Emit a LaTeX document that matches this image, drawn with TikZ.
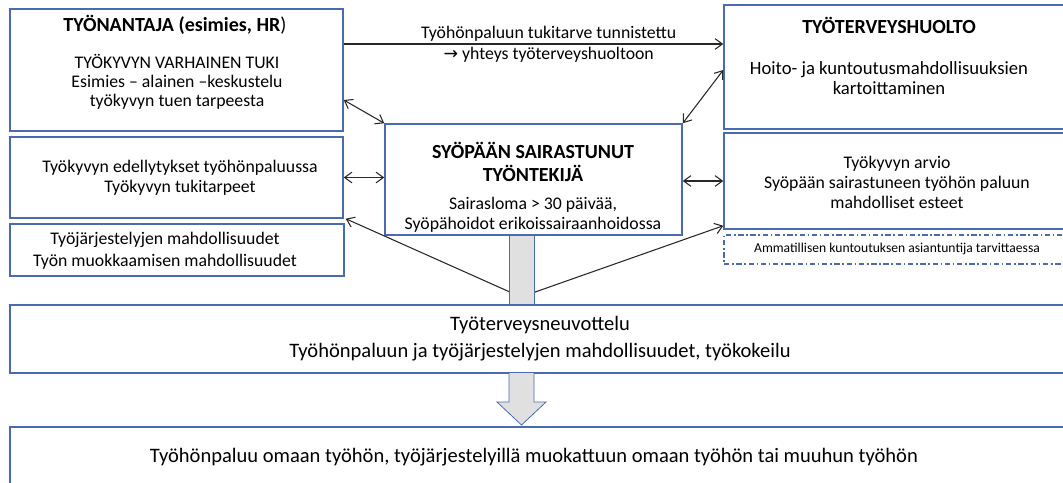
\documentclass[tikz,border=0pt]{standalone}
\usepackage{fontspec}
\setmainfont{Carlito}
\newfontfamily\arrowglyph{DejaVu Sans}
\usetikzlibrary{arrows.meta}
\definecolor{boxblue}{RGB}{74,107,178}
\definecolor{linkgray}{RGB}{40,40,40}
\definecolor{shaftgray}{RGB}{224,224,224}
\begin{document}
\begin{tikzpicture}[x=0.75pt,y=-0.75pt,
  box/.style={draw=boxblue,line width=1.1pt,fill=white,inner sep=0pt},
  txt/.style={align=center,inner sep=0pt,font=\fontsize{13.3pt}{15pt}\selectfont},
  head/.style={align=center,inner sep=0pt,font=\fontsize{15pt}{17.25pt}\selectfont\bfseries},
  bigtxt/.style={align=center,inner sep=0pt,font=\fontsize{15.4pt}{20.25pt}\selectfont},
  link/.style={draw=linkgray,line width=0.8pt},
  tip/.style={-{Straight Barb[length=5.5pt,width=8pt]}},
  tips/.style={{Straight Barb[length=5.5pt,width=8pt]}-{Straight Barb[length=5.5pt,width=8pt]}},
  shaft/.style={draw=boxblue,line width=0.6pt,fill=shaftgray}]
\useasboundingbox (0,0) rectangle (1063,482);

% boxes
\node[box,minimum width=333*0.75pt,minimum height=122*0.75pt] (A) at (176.5,70) {};
\node[box,minimum width=333*0.75pt,minimum height=81*0.75pt] (B) at (176.5,177.5) {};
\node[box,minimum width=334*0.75pt,minimum height=52*0.75pt] (C) at (177,250) {};
\node[box,minimum width=297*0.75pt,minimum height=111*0.75pt] (D) at (533.5,179.5) {};
\node[box,minimum width=351*0.75pt,minimum height=124*0.75pt] (E) at (899.5,67) {};
\node[box,minimum width=351*0.75pt,minimum height=96*0.75pt] (F) at (899.5,181) {};
\node[draw=boxblue,line width=0.8pt,dash pattern=on 4pt off 2pt on 1.2pt off 2pt,
      minimum width=351*0.75pt,minimum height=29*0.75pt,inner sep=0pt] (G) at (899.5,249.5) {};
\node[box,minimum width=1065*0.75pt,minimum height=68*0.75pt] (H) at (542.5,339) {};
\node[box,minimum width=1065*0.75pt,minimum height=63*0.75pt] (I) at (542.5,458.5) {};

% texts
\node[head] (tA) at (175,25) {TYÖNANTAJA (esimies, HR\textmd{)}};
\node[txt,font=\fontsize{13.3pt}{14.25pt}\selectfont] (bA) at (177,82) {TYÖKYVYN VARHAINEN TUKI\\Esimies – alainen –keskustelu\\työkyvyn tuen tarpeesta};
\node[txt] (bB) at (180,178) {Työkyvyn edellytykset työhönpaluussa\\Työkyvyn tukitarpeet};
\node[txt,font=\fontsize{13.3pt}{16.5pt}\selectfont] (bC) at (165,251) {Työjärjestelyjen mahdollisuudet\\Työn muokkaamisen mahdollisuudet};
\node[head] (tD) at (533,161.5) {SYÖPÄÄN SAIRASTUNUT\\TYÖNTEKIJÄ};
\node[txt] (bD) at (533,215) {Sairasloma > 30 päivää,\\Syöpähoidot erikoissairaanhoidossa};
\node[head] (tE) at (889,25) {TYÖTERVEYSHUOLTO};
\node[txt,font=\fontsize{14pt}{15pt}\selectfont] (bE) at (889,78) {Hoito- ja kuntoutusmahdollisuuksien\\kartoittaminen};
\node[txt] (bF) at (897,182) {Työkyvyn arvio\\Syöpään sairastuneen työhön paluun\\mahdolliset esteet};
\node[inner sep=0pt,font=\fontsize{10.2pt}{12pt}\selectfont] (bG) at (897,249) {Ammatillisen kuntoutuksen asiantuntija tarvittaessa};
\node[bigtxt] (bH) at (540,338.5) {Työterveysneuvottelu\\Työhönpaluun ja työjärjestelyjen mahdollisuudet, työkokeilu};
\node[bigtxt] (bI) at (534,457) {Työhönpaluu omaan työhön, työjärjestelyillä muokattuun omaan työhön tai muuhun työhön};

% connectors between the parties
\coordinate (ae) at ([yshift=26*0.75pt]A.east);
\draw[link,tip] (ae) -- (ae -| E.west)
  node[pos=0.54,above=1.5pt,txt] (lab1) {Työhönpaluun tukitarve tunnistettu}
  node[pos=0.54,below=2pt,txt] (lab2) {{\arrowglyph\fontsize{13pt}{13pt}\selectfont →} yhteys työterveyshuoltoon};
\draw[link,tips] ([yshift=-30*0.75pt]A.east) -- (D.north west);
\draw[link,tips] (D.north east) -- ([yshift=-3*0.75pt]E.west);
\draw[link,tips] (B.east) -- (B.east -| D.west);
\draw[link,tips] (F.west -| D.east) -- (F.west);

% lines fanning out from the flow arrow
\coordinate (fan) at (521,297);
\draw[link,tip] (fan) -- ([xshift=1.5pt]B.south east);
\draw[link,tip] (fan) -- ([yshift=3pt]F.south west);

% flow arrows
\coordinate (s1) at (509,235);
\coordinate (s2) at (534,305);
\draw[shaft] (s1 |- D.south) rectangle (s2 |- H.north);
\draw[shaft] (509,373) -- (509,402) -- (497,402) -- (521.5,425) -- (546,402) -- (534,402) -- (534,373);
\end{tikzpicture}
\end{document}
